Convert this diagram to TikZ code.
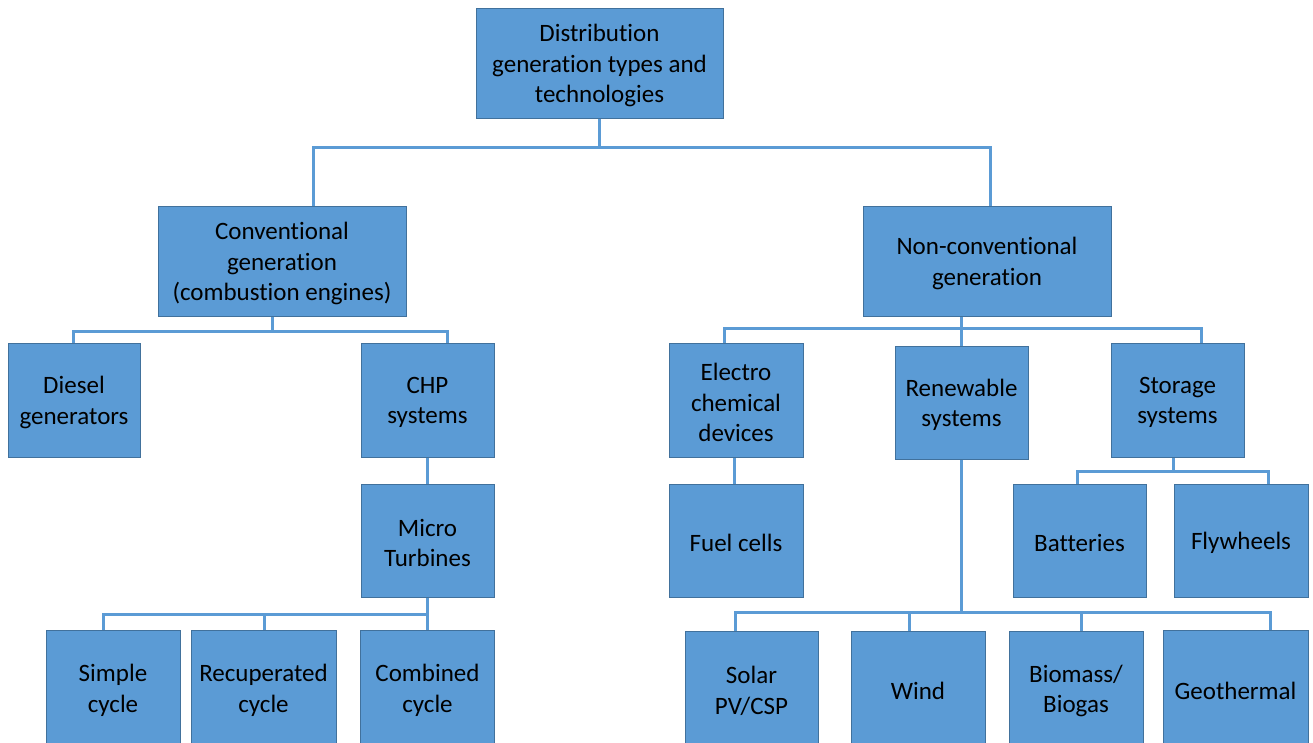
\documentclass[tikz,border=0pt]{standalone}
\usepackage{fontspec}
\usetikzlibrary{backgrounds}
\setmainfont[Ligatures=NoCommon]{Carlito}
\definecolor{boxfill}{HTML}{5B9BD5}
\definecolor{boxline}{HTML}{41719C}
\definecolor{connline}{HTML}{5B9BD5}
\begin{document}
\begin{tikzpicture}[x=1pt,y=-1pt,
  box/.style={draw=boxline, line width=0.8pt, fill=boxfill, inner sep=0pt,
    label={[align=center, font=\fontsize{25}{30.5}\selectfont, text=black, inner sep=0pt, yshift=-2.5pt]center:#1}},
  conn/.style={draw=connline, line width=3pt, line cap=rect}]
\useasboundingbox (0,0) rectangle (1313,743);
\clip (0,0) rectangle (1313,743);
% nodes
\node[box={Distribution\\generation types and\\technologies}, minimum width=247pt, minimum height=110pt] (top) at (599.5,63) {};
\node[box={Conventional\\generation\\(combustion engines)}, minimum width=248pt, minimum height=110pt] (conv) at (282,261) {};
\node[box={Non-conventional\\generation}, minimum width=248pt, minimum height=110pt] (nonconv) at (987,261) {};
\node[box={Diesel\\generators}, minimum width=132pt, minimum height=114pt] (diesel) at (74,400) {};
\node[box={CHP\\systems}, minimum width=133pt, minimum height=114pt] (chp) at (427.5,400) {};
\node[box={Micro\\Turbines}, minimum width=133pt, minimum height=113pt] (micro) at (427.5,540.5) {};
\node[box={Simple\\cycle}, minimum width=134pt, minimum height=116pt] (simple) at (113,688) {};
\node[box={Recuperated\\cycle}, minimum width=145pt, minimum height=116pt] (recup) at (263.5,688) {};
\node[box={Combined\\cycle}, minimum width=134pt, minimum height=116pt] (combined) at (427.5,688) {};
\node[box={Electro\\chemical\\devices}, minimum width=134pt, minimum height=114pt] (electro) at (736,400) {};
\node[box={Renewable\\systems}, minimum width=133pt, minimum height=113pt] (renew) at (961.5,402.5) {};
\node[box={Storage\\systems}, minimum width=133pt, minimum height=114pt] (storage) at (1177.5,400) {};
\node[box={Fuel cells}, minimum width=134pt, minimum height=113pt] (fuel) at (736,540.5) {};
\node[box={Batteries}, minimum width=133pt, minimum height=113pt] (batteries) at (1079.5,540.5) {};
\node[box={Flywheels}, minimum width=134pt, minimum height=113pt] (flywheels) at (1241,540.5) {};
\node[box={Solar\\PV/CSP}, minimum width=133pt, minimum height=115pt] (solar) at (751.5,688.5) {};
\node[box={Wind}, minimum width=134pt, minimum height=115pt] (wind) at (918,688.5) {};
\node[box={Biomass/\\Biogas}, minimum width=134pt, minimum height=115pt] (biomass) at (1076,688.5) {};
\node[box={Geothermal}, minimum width=145pt, minimum height=116pt] (geo) at (1235.5,688) {};
% connectors
\begin{scope}[on background layer]
\coordinate (j1) at (599.5,148);
\draw[conn] (top.south) -- (j1) -| ([xshift=31pt]conv.north);
\draw[conn] (j1) -| ([xshift=3pt]nonconv.north);
\coordinate (j2) at (272,331);
\draw[conn] ([xshift=-10pt]conv.south) -- (j2) -| ([xshift=-1pt]diesel.north);
\draw[conn] (j2) -| ([xshift=19.5pt]chp.north);
\draw[conn] (chp.south) -- (micro.north);
\coordinate (j3) at (427.5,614);
\draw[conn] (micro.south) -- (j3) -| ([xshift=-10pt]simple.north);
\draw[conn] (j3) -| ([xshift=0.5pt]recup.north);
\draw[conn] (j3) -- (combined.north);
\coordinate (j4) at (961.5,328);
\draw[conn] ([xshift=-25.5pt]nonconv.south) -- (j4) -| ([xshift=-12pt]electro.north);
\draw[conn] (j4) -| ([xshift=23.5pt]storage.north);
\draw[conn] (j4) -- (renew.north);
\draw[conn] ([xshift=-2pt]electro.south) -- ([xshift=-2pt]fuel.north);
\coordinate (j5) at (961.5,612);
\draw[conn] (renew.south) -- (j5) -| ([xshift=-16.5pt]solar.north);
\draw[conn] (j5) -| ([xshift=-9pt]wind.north);
\draw[conn] (j5) -| ([xshift=5pt]biomass.north);
\draw[conn] (j5) -| ([xshift=34.5pt]geo.north);
\coordinate (j6) at (1173,471);
\draw[conn] ([xshift=-4.5pt]storage.south) -- (j6) -| ([xshift=-2.5pt]batteries.north);
\draw[conn] (j6) -| ([xshift=27pt]flywheels.north);
\end{scope}
\end{tikzpicture}
\end{document}
